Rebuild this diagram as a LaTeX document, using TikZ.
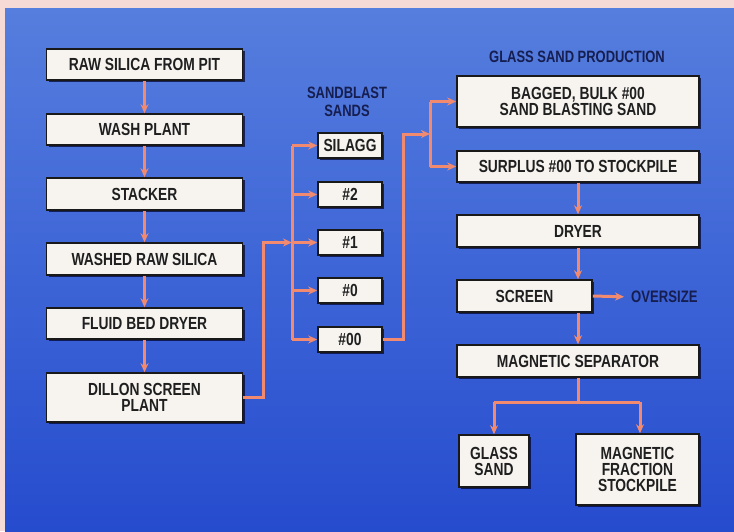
\documentclass[tikz,border=0pt]{standalone}
\usepackage{fontspec}
\setmainfont{Liberation Sans}[FakeStretch=0.79]
\usetikzlibrary{arrows.meta,shadows}
\definecolor{pinkbg}{RGB}{246,218,214}
\definecolor{bluetop}{RGB}{86,126,222}
\definecolor{bluebot}{RGB}{38,76,206}
\definecolor{flow}{RGB}{242,138,112}
\definecolor{boxfill}{RGB}{247,244,240}
\definecolor{navy}{RGB}{22,30,80}
\tikzset{
  box/.style={draw=black!90, line width=1.6pt, fill=boxfill, align=center,
    font=\fontsize{17.5}{16}\selectfont\bfseries, text=black!88, inner sep=0pt,
    drop shadow={shadow xshift=2.2pt, shadow yshift=-2.2pt, fill=black!85!blue, opacity=0.7}},
  flowline/.style={draw=flow, line width=3pt},
  flowarrow/.style={flowline, -{Stealth[length=9pt,width=8pt]}},
  heading/.style={font=\fontsize{16.4}{18}\selectfont\bfseries, text=navy, align=center, inner sep=0pt}
}
\begin{document}
\begin{tikzpicture}[x=1pt,y=-1pt]
\useasboundingbox (0,0) rectangle (734,531);
\fill[pinkbg] (0,0) rectangle (734,531);
\shade[top color=bluetop, bottom color=bluebot] (5,8) rectangle (734,531);

% left column
\node[box, minimum width=196, minimum height=31] (raw) at (144.5,64.5) {RAW SILICA FROM PIT};
\node[box, minimum width=196, minimum height=31] (wash) at (144.5,129.5) {WASH PLANT};
\node[box, minimum width=196, minimum height=32] (stack) at (144.5,194) {STACKER};
\node[box, minimum width=196, minimum height=32] (washed) at (144.5,259) {WASHED RAW SILICA};
\node[box, minimum width=196, minimum height=31] (fluid) at (144.5,323.5) {FLUID BED DRYER};
\node[box, minimum width=196, minimum height=49] (dillon) at (144.5,397.5) {DILLON SCREEN\\PLANT};

% sandblast sands
\node[heading] (sbh) at (347,102) {SANDBLAST\\SANDS};
\node[box, minimum width=64, minimum height=25] (silagg) at (350,145.5) {SILAGG};
\node[box, minimum width=64, minimum height=25] (s2) at (350,194.5) {\#2};
\node[box, minimum width=64, minimum height=25] (s1) at (350,242.5) {\#1};
\node[box, minimum width=64, minimum height=25] (s0) at (350,290.5) {\#0};
\node[box, minimum width=64, minimum height=25] (s00) at (350,339.5) {\#00};

% glass sand production
\node[heading] (gsh) at (577,57) {GLASS SAND PRODUCTION};
\node[box, minimum width=242, minimum height=51] (bag) at (578,101.5) {BAGGED, BULK \#00\\SAND BLASTING SAND};
\node[box, minimum width=242, minimum height=31] (surp) at (578,166.5) {SURPLUS \#00 TO STOCKPILE};
\node[box, minimum width=242, minimum height=32] (dry) at (578,231) {DRYER};
\node[box, minimum width=135, minimum height=32] (scr) at (524.5,296) {SCREEN};
\node[heading, anchor=west, font=\fontsize{16.6}{16}\selectfont\bfseries] (over) at (631,297) {OVERSIZE};
\node[box, minimum width=242, minimum height=32] (mag) at (578,361) {MAGNETIC SEPARATOR};
\node[box, minimum width=70, minimum height=52] (glass) at (494,461) {GLASS\\SAND};
\node[box, minimum width=123, minimum height=71] (magf) at (637.5,469.5) {MAGNETIC\\FRACTION\\STOCKPILE};

\coordinate (sbtop) at (292,145.5);
\coordinate (sbbot) at (292,339.5);
\coordinate (din1) at (263,397.5);
\coordinate (din2) at (263,242.5);
\coordinate (gtop) at (430,101.5);
\coordinate (gbot) at (430,166.5);
\coordinate (o1) at (403,339.5);
\coordinate (o2) at (403,134);
\coordinate (o3) at (430,134);
\coordinate (split) at (578,402);
\coordinate (sl) at (494,402);
\coordinate (sr) at (640,402);

% arrows in left column
\foreach \a/\b in {raw/wash, wash/stack, stack/washed, washed/fluid, fluid/dillon}
  \draw[flowarrow] (\a.south) -- (\b.north);

% dillon to sand branch
\draw[flowline] (sbtop) -- (sbbot);
\draw[flowarrow] (dillon.east |- din1) -- (din1) -- (din2) -- (sbtop |- din2);
\foreach \n in {silagg,s2,s1,s0,s00}
  \draw[flowarrow] (sbtop |- \n.west) -- (\n.west);

% #00 to glass sand production
\draw[flowline] (gtop) -- (gbot);
\draw[flowarrow] (s00.east) -- (o1) -- (o2) -- (o3);
\draw[flowarrow] (gtop) -- (bag.west);
\draw[flowarrow] (gbot) -- (surp.west);

\draw[flowarrow] (surp.south) -- (dry.north);
\draw[flowarrow] (dry.south) -- (dry.south |- scr.north);
\draw[flowarrow, shorten >=7pt] (scr.east) -- (over.west);
\draw[flowarrow] (scr.south -| mag.north) -- (mag.north);
\draw[flowline] (mag.south) -- (split);
\draw[flowline] (sl) -- (sr);
\draw[flowarrow] (sl) -- (sl |- glass.north);
\draw[flowarrow] (sr) -- (sr |- magf.north);
\end{tikzpicture}
\end{document}
